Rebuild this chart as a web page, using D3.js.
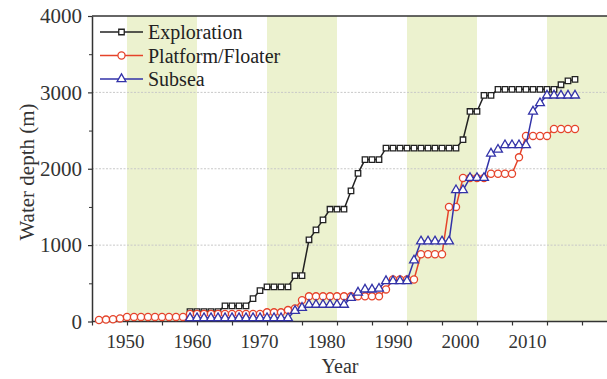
<!DOCTYPE html>
<html>
<head>
<meta charset="utf-8">
<script src="https://cdn.jsdelivr.net/npm/d3@7"></script>
<style>
  body { margin: 0; background: #fff; }
  svg { display: block; }
  svg text { font-family: 'Liberation Serif', 'DejaVu Serif', serif; }
</style>
</head>
<body>
<svg id="chart"></svg>
<script>
// Data (year -> water depth, m)
const explorationYears = d3.range(1959, 2015);
const explorationDepth = [
  130, 130, 130, 130, 130, 205, 205, 205, 205, 300, 405, 453, 453, 453, 453, 600,
  600, 1070, 1200, 1330, 1470, 1470, 1470, 1710, 1940, 2120, 2120, 2120, 2270, 2270,
  2270, 2270, 2270, 2270, 2270, 2270, 2270, 2270, 2270, 2380, 2750, 2750, 2960, 2960,
  3040, 3040, 3040, 3040, 3040, 3040, 3040, 3040, 3040, 3100, 3150, 3170
];

const platformYears = d3.range(1946, 2015);
const platformDepth = [
  20, 25, 30, 40, 60, 60, 60, 60, 60, 60, 60, 60, 60, 100, 100, 100, 100, 100, 100, 100,
  100, 100, 100, 100, 120, 120, 120, 150, 170, 280, 330, 330, 330, 330, 330, 330, 330, 330,
  330, 330, 330, 420, 550, 550, 550, 550, 880, 880, 880, 880, 1500, 1500, 1880, 1880, 1880,
  1880, 1935, 1935, 1935, 1935, 2150, 2430, 2430, 2430, 2430, 2520, 2520, 2520, 2520
];

const subseaYears = d3.range(1959, 2015);
const subseaDepth = [
  45, 45, 45, 45, 45, 45, 45, 45, 45, 45, 45, 45, 45, 45, 45, 140, 180, 220, 220, 220, 220,
  220, 220, 310, 380, 420, 420, 430, 530, 530, 530, 530, 800, 1050, 1050, 1050, 1050, 1050,
  1720, 1720, 1880, 1880, 1880, 2200, 2250, 2310, 2310, 2310, 2310, 2750, 2860, 2960, 2960,
  2960, 2960, 2960
];

const bandStarts = [1950, 1970, 1990, 2010];
const xTickYears = d3.range(1945, 2020, 5);
const xLabelYears = [1950, 1960, 1970, 1980, 1990, 2000, 2010];
const yTickValues = [0, 1000, 2000, 3000, 4000];
const yMinorValues = [500, 1500, 2500, 3500];
const gridValues = [1000, 2000, 3000];

const seriesNames = ["Exploration", "Platform/Floater", "Subsea"];

// Chart dimensions
const width = 607;
const height = 379;
const margin = { top: 16, left: 92, bottom: 57 };
const serif = "'Liberation Serif', serif";

const xScale = d3.scaleLinear().domain([1945, 2020]).range([92, 617]);
// the printed year labels sit slightly off the ticks in the original figure
const xLabelScale = d3.scaleLinear().domain([1950, 2010]).range([125, 527]);
const yScale = d3.scaleLinear().domain([0, 4000]).range([height - margin.bottom - 0.5, margin.top]);

const svg = d3.select("#chart").attr("width", width).attr("height", height);

// Shaded decades
svg.selectAll(".band")
  .data(bandStarts)
  .enter()
  .append("rect")
  .attr("class", "band")
  .attr("x", (d) => xScale(d))
  .attr("y", yScale(4000))
  .attr("width", (d) => xScale(d + 10) - xScale(d))
  .attr("height", yScale(0) - yScale(4000))
  .attr("fill", "#ecf2cf");

// Dotted gridlines
svg.selectAll(".grid")
  .data(gridValues)
  .enter()
  .append("line")
  .attr("x1", xScale(1945))
  .attr("x2", width)
  .attr("y1", (d) => yScale(d))
  .attr("y2", (d) => yScale(d))
  .attr("stroke", "#c8c8c8")
  .attr("stroke-width", 1)
  .attr("stroke-dasharray", "2,1.5");

// Frame: top line
svg.append("line")
  .attr("x1", xScale(1945))
  .attr("x2", width)
  .attr("y1", yScale(4000))
  .attr("y2", yScale(4000))
  .attr("stroke", "#333")
  .attr("stroke-width", 1.5);

// Axes
const xAxis = d3.axisBottom(xScale).tickValues(xTickYears).tickSize(4).tickSizeOuter(0).tickFormat("");
svg.append("g")
  .attr("transform", `translate(0, ${yScale(0)})`)
  .call(xAxis)
  .call((g) => g.select(".domain").attr("stroke", "#333").attr("stroke-width", 1.5).attr("d", `M${xScale(1945)},0H${width}`))
  .call((g) => g.selectAll(".tick line").attr("stroke", "#333").attr("stroke-width", 1.2));

const xLabelAxis = d3.axisBottom(xLabelScale).tickValues(xLabelYears).tickSize(0).tickPadding(13).tickFormat(d3.format("d"));
svg.append("g")
  .attr("transform", `translate(0, ${yScale(0)})`)
  .call(xLabelAxis)
  .attr("font-family", serif)
  .attr("font-size", 19)
  .call((g) => g.select(".domain").remove())
  .selectAll("text")
  .attr("fill", "#333");

const yAxis = d3.axisLeft(yScale).tickValues(yTickValues).tickSize(4).tickPadding(6).tickSizeOuter(0).tickFormat(d3.format("d"));
svg.append("g")
  .attr("transform", `translate(${xScale(1945)}, 0)`)
  .call(yAxis)
  .attr("font-family", serif)
  .attr("font-size", 21)
  .call((g) => g.select(".domain").attr("stroke", "#333").attr("stroke-width", 1.5))
  .call((g) => g.selectAll(".tick line").attr("stroke", "#333").attr("stroke-width", 1.2))
  .selectAll("text")
  .attr("fill", "#333");

svg.append("g")
  .attr("transform", `translate(${xScale(1945)}, 0)`)
  .call(d3.axisLeft(yScale).tickValues(yMinorValues).tickSize(3).tickFormat(""))
  .call((g) => g.select(".domain").remove())
  .selectAll(".tick line").attr("stroke", "#333");

// Axis titles
svg.append("text")
  .attr("x", 340)
  .attr("y", 373)
  .attr("text-anchor", "middle")
  .attr("fill", "#333")
  .attr("font-family", serif)
  .attr("font-size", 20)
  .text("Year");

svg.append("text")
  .attr("transform", "translate(34, 172) rotate(-90)")
  .attr("text-anchor", "middle")
  .attr("fill", "#333")
  .attr("font-family", serif)
  .attr("font-size", 21)
  .text("Water depth (m)");

// Series
const series = [
  { name: seriesNames[0], years: explorationYears, values: explorationDepth, color: "#222222", marker: "square" },
  { name: seriesNames[1], years: platformYears, values: platformDepth, color: "#e5432a", marker: "circle" },
  { name: seriesNames[2], years: subseaYears, values: subseaDepth, color: "#3232a8", marker: "triangle" }
];

const markerPath = {
  square: d3.symbol().type(d3.symbolSquare).size(30),
  circle: d3.symbol().type(d3.symbolCircle).size(40),
  triangle: d3.symbol().type(d3.symbolTriangle).size(34)
};

const line = d3.line()
  .x((d) => xScale(d[0]))
  .y((d) => yScale(d[1]));

series.forEach(function (s) {
  const pts = s.years.map((y, i) => [y, s.values[i]]);
  const g = svg.append("g");
  g.append("path")
    .datum(pts)
    .attr("d", line)
    .attr("fill", "none")
    .attr("stroke", s.color)
    .attr("stroke-width", 1.5);
  g.selectAll("path.pt")
    .data(pts)
    .enter()
    .append("path")
    .attr("class", "pt")
    .attr("transform", (d) => `translate(${xScale(d[0])}, ${yScale(d[1])})`)
    .attr("d", markerPath[s.marker])
    .attr("fill", "#fff")
    .attr("stroke", s.color)
    .attr("stroke-width", 1.3);
});

// Legend
const legend = svg.append("g").attr("transform", "translate(100, 32)");
const legendItems = legend.selectAll(".legend-item")
  .data(series)
  .enter()
  .append("g")
  .attr("class", "legend-item")
  .attr("transform", (d, i) => `translate(0, ${i * 23.5})`);

legendItems.append("line")
  .attr("x1", 0)
  .attr("x2", 43)
  .attr("stroke", (d) => d.color)
  .attr("stroke-width", 1.5);

legendItems.append("path")
  .attr("transform", "translate(21.5, 0)")
  .attr("d", (d) => markerPath[d.marker]())
  .attr("fill", "#fff")
  .attr("stroke", (d) => d.color)
  .attr("stroke-width", 1.3);

legendItems.append("text")
  .attr("x", 48)
  .attr("y", 7)
  .attr("fill", "#222")
  .attr("font-family", serif)
  .attr("font-size", 20)
  .text((d) => d.name);
</script>
</body>
</html>
